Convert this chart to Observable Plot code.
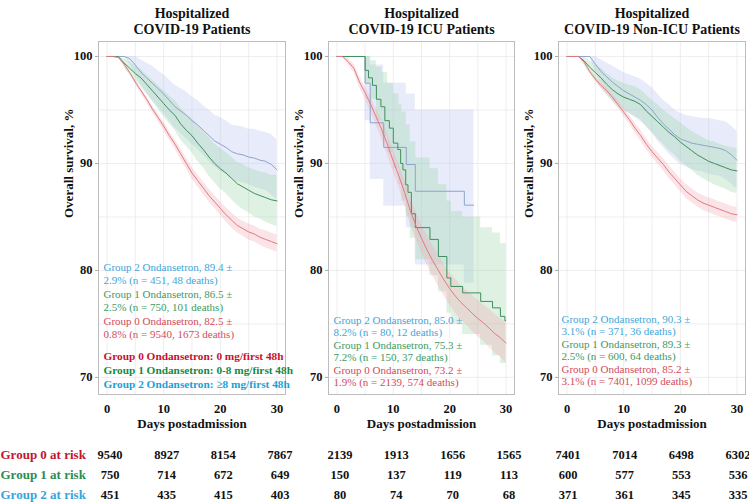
<!DOCTYPE html>
<html><head><meta charset="utf-8">
<script src="https://cdn.jsdelivr.net/npm/d3@7"></script>
<script src="https://cdn.jsdelivr.net/npm/@observablehq/plot@0.6"></script>
<style>
body{margin:0;background:#fff;}
#chart{position:relative;width:749px;height:502px;overflow:hidden;background:#fff;}
#chart svg{position:absolute;top:0;}
#chart svg, #chart svg text{font-family:"Liberation Serif","Times New Roman",serif !important;}
</style></head><body><div id="chart"></div>
<script>
// ---------- data ----------
const days = [0,1,2,3,4,5,6,7,8,9,10,11,12,13,14,15,16,17,18,19,20,21,22,23,24,25,26,27,28,29,30];
const tickDays = [0,10,20,30];
const gridDays = [0,5,10,15,20,25,30];
const tickSurv = [70,80,90,100];
const gridSurv = [70,75,80,85,90,95,100];

// All hospitalized patients
const allG0   = [100,100,99.9,99.3,98.5,97.6,96.8,96.0,95.1,94.3,93.5,92.6,91.8,90.9,90.0,89.1,88.4,87.7,87.0,86.4,85.8,85.2,84.7,84.2,83.9,83.6,83.4,83.1,82.9,82.7,82.5];
const allG0ci = [0,0,0.05,0.1,0.15,0.2,0.25,0.3,0.3,0.35,0.4,0.4,0.45,0.5,0.5,0.55,0.55,0.6,0.6,0.6,0.65,0.65,0.7,0.7,0.7,0.75,0.75,0.75,0.8,0.8,0.8];
const allG1   = [100,100,100,99.4,98.9,98.4,98.0,97.4,96.8,96.2,95.6,95.0,94.5,93.7,93.1,92.6,91.9,91.3,90.6,90.0,89.5,89.1,88.6,88.1,87.8,87.5,87.2,87.0,86.8,86.6,86.5];
const allG1ci = [0,0,0,0.4,0.6,0.7,0.8,0.9,1.0,1.1,1.2,1.3,1.4,1.5,1.5,1.6,1.7,1.7,1.8,1.8,1.9,1.9,2.0,2.0,2.1,2.1,2.2,2.2,2.3,2.3,2.4];
const allG2   = [100,100,100,100,99.8,99.2,98.5,98.0,97.5,97.0,96.5,95.9,95.3,94.9,94.5,94.0,93.6,93.1,92.6,92.1,91.8,91.5,91.1,90.9,90.8,90.6,90.5,90.3,90.2,89.9,89.4];
const allG2ci = [0,0,0,0,0.5,0.9,1.2,1.4,1.6,1.7,1.8,1.9,2.0,2.1,2.2,2.2,2.3,2.3,2.4,2.4,2.5,2.5,2.5,2.6,2.6,2.6,2.7,2.7,2.7,2.8,2.8];

// ICU patients
const icuG0   = [100,100,99.5,98.9,97.6,96.6,95.5,94.3,93.1,91.7,90.2,88.8,87.3,85.6,84.2,83.0,81.9,80.9,80.0,79.1,78.3,77.6,77.0,76.5,76.0,75.5,75.1,74.6,74.1,73.7,73.2];
const icuG0ci = [0,0,0.3,0.4,0.5,0.6,0.7,0.8,0.9,1.0,1.0,1.1,1.2,1.2,1.3,1.3,1.4,1.4,1.5,1.5,1.5,1.6,1.6,1.6,1.7,1.7,1.7,1.8,1.8,1.8,1.9];
const icuG1Days = [0,5.0,5.6,6.3,7.0,7.8,8.5,9.3,10.0,10.8,11.3,11.7,12.2,12.6,13.2,13.9,16.5,18.0,19.5,20.2,22.3,25.5,27.6,29.0,29.8,30];
const icuG1     = [100,98.7,98.0,97.3,96.0,95.3,94.0,93.3,91.9,91.3,90.0,89.4,88.0,87.3,85.3,84.0,82.9,81.3,79.3,78.5,77.9,77.1,76.5,75.7,75.3,75.3];
const icuG1BandDays = [0,5,6,7,8,9,10,11,11.5,12.3,13,14,16.5,18,19.5,20.3,22.3,25.5,27.6,29,30];
const icuG1Lo   = [100,97.5,96,94,92.5,91,89.5,88,86.5,85,83,81,79.5,78,76,75,74,73,72,71.3,71.3];
const icuG1Hi   = [100,100,99.6,99,98.5,97.5,96.5,95.5,94.8,93.6,92,90.5,89.5,88,86.5,85.5,85,84,83.5,82.5,82.5];
const icuG2Days = [0,5.0,5.9,8.3,12.3,13.9,22.6,24.3];
const icuG2     = [100,97.5,93.8,91.5,89.9,87.4,86.1,86.1];
const icuG2Lo   = [100,94,88.5,86,84,80.5,78.8,78.8];
const icuG2Hi   = [100,100,99.2,97.5,96.5,95.0,95.0,95.0];

// Non-ICU patients
const nonG0   = [100,100,100,99.5,98.6,97.9,97.3,96.8,96.2,95.5,94.8,94.1,93.3,92.6,91.8,91.1,90.5,89.9,89.2,88.6,88.0,87.4,87.0,86.6,86.3,86.1,85.9,85.7,85.5,85.3,85.2];
const nonG0ci = [0,0,0,0.1,0.15,0.2,0.25,0.3,0.3,0.35,0.4,0.4,0.45,0.5,0.5,0.5,0.55,0.55,0.6,0.6,0.6,0.65,0.65,0.65,0.7,0.7,0.7,0.7,0.7,0.7,0.7];
const nonG1   = [100,100,100,99.6,99.0,98.5,98.0,97.4,96.9,96.5,96.2,96.0,95.8,95.5,94.9,94.4,93.9,93.4,92.9,92.5,92.0,91.6,91.2,90.8,90.5,90.2,90.0,89.8,89.6,89.4,89.3];
const nonG1ci = [0,0,0,0.4,0.6,0.8,0.9,1.0,1.1,1.2,1.3,1.3,1.4,1.4,1.5,1.5,1.6,1.6,1.7,1.7,1.8,1.8,1.8,1.9,1.9,1.9,2.0,2.0,2.0,2.1,2.1];
const nonG2   = [100,100,100,100,100,99.3,98.6,98.1,97.6,97.2,96.8,96.5,96.2,95.9,95.5,95.0,94.3,93.7,93.2,92.7,92.3,92.1,91.9,91.8,91.7,91.6,91.5,91.4,91.2,90.8,90.3];
const nonG2ci = [0,0,0,0,0,0.7,1.1,1.3,1.5,1.6,1.7,1.8,1.9,2.0,2.0,2.1,2.2,2.2,2.3,2.3,2.4,2.4,2.5,2.5,2.5,2.6,2.6,2.6,2.7,2.7,2.7];

// Text
const titles = [["Hospitalized","COVID-19 Patients"],["Hospitalized","COVID-19 ICU Patients"],["Hospitalized","COVID-19 Non-ICU Patients"]];
const allLegend = ["Group 2 Ondansetron, 89.4 ±","2.9% (n = 451, 48 deaths)","Group 1 Ondansetron, 86.5 ±","2.5% (n = 750, 101 deaths)","Group 0 Ondansetron, 82.5 ±","0.8% (n = 9540, 1673 deaths)"];
const icuLegend = ["Group 2 Ondansetron, 85.0 ±","8.2% (n = 80, 12 deaths)","Group 1 Ondansetron, 75.3 ±","7.2% (n = 150, 37 deaths)","Group 0 Ondansetron, 73.2 ±","1.9% (n = 2139, 574 deaths)"];
const nonLegend = ["Group 2 Ondansetron, 90.3 ±","3.1% (n = 371, 36 deaths)","Group 1 Ondansetron, 89.3 ±","2.5% (n = 600, 64 deaths)","Group 0 Ondansetron, 85.2 ±","3.1% (n = 7401, 1099 deaths)"];
const groupLabels = ["Group 0 Ondansetron: 0 mg/first 48h","Group 1 Ondansetron: 0-8 mg/first 48h","Group 2 Ondansetron: ≥8 mg/first 48h"];
const riskLabels = ["Group 0 at risk","Group 1 at risk","Group 2 at risk"];
const riskDays = [0,10,20,30];
const allRisk = [[9540,8927,8154,7867],[750,714,672,649],[451,435,415,403]];
const icuRisk = [[2139,1913,1656,1565],[150,137,119,113],[80,74,70,68]];
const nonRisk = [[7401,7014,6498,6302],[600,577,553,536],[371,361,345,335]];
const yLabel = "Overall survival, %";
const xLabel = "Days postadmission";

// ---------- styles ----------
const FONT = "Liberation Serif";
const lineColor = ["#e07a80","#3f8f5c","#8fa3cc"];
const bandColor = ["#f3a7ae","#93d1a3","#bcc8ef"];
const softText  = ["#d34b5c","#3d9a62","#3fa6da"];
const strongText= ["#c8102e","#168a44","#1c9fd8"];
const riskColor = ["#c4142f","#2b8c52","#38a4dc"];

function smooth(g, v, ci){ return days.map((d,i)=>({g, day:d, v:v[i], lo:v[i]-ci[i], hi:Math.min(100, v[i]+ci[i])})); }
function steps(g, d, v){ return d.map((x,i)=>({g, day:x, v:v[i]})); }
function band(g, d, lo, hi){ return d.map((x,i)=>({g, day:x, lo:lo[i], hi:hi[i]})); }

const panels = [
  { left:0, width:290, ml:98, mr:5, title:titles[0], legend:allLegend, legTop:-124, legStep:13.5, legDx:5, risk:allRisk, riskDx:3, first:true,
    bands:[{d:smooth(2,allG2,allG2ci),curve:"linear"},{d:smooth(1,allG1,allG1ci),curve:"linear"},{d:smooth(0,allG0,allG0ci),curve:"linear"}],
    lines:[{d:smooth(2,allG2,allG2ci),curve:"linear"},{d:smooth(1,allG1,allG1ci),curve:"linear"},{d:smooth(0,allG0,allG0ci),curve:"linear"}] },
  { left:290, width:230, ml:38, mr:6, title:titles[1], legend:icuLegend, legTop:-71, legStep:12.5, legDx:5, risk:icuRisk, riskDx:3, first:false,
    bands:[{d:band(2,icuG2Days,icuG2Lo,icuG2Hi),curve:"step-after"},{d:band(1,icuG1BandDays,icuG1Lo,icuG1Hi),curve:"step-after"},{d:smooth(0,icuG0,icuG0ci),curve:"linear"}],
    lines:[{d:steps(2,icuG2Days,icuG2),curve:"step-after"},{d:steps(1,icuG1Days,icuG1),curve:"step-after"},{d:smooth(0,icuG0,icuG0ci),curve:"linear"}] },
  { left:520, width:229, ml:38, mr:4, title:titles[2], legend:nonLegend, legTop:-72, legStep:12.5, legDx:3, risk:nonRisk, riskDx:1, first:false,
    bands:[{d:smooth(2,nonG2,nonG2ci),curve:"linear"},{d:smooth(1,nonG1,nonG1ci),curve:"linear"},{d:smooth(0,nonG0,nonG0ci),curve:"linear"}],
    lines:[{d:smooth(2,nonG2,nonG2ci),curve:"linear"},{d:smooth(1,nonG1,nonG1ci),curve:"linear"},{d:smooth(0,nonG0,nonG0ci),curve:"linear"}] }
];

const chart = document.getElementById("chart");
const legendColorOrder = [2,2,1,1,0,0];
const T = {fontFamily: FONT};

panels.forEach(p => {
  const marks = [
    Plot.gridX({ticks: gridDays, stroke:"#e6e6e6", strokeOpacity:1, strokeWidth:0.7}),
    Plot.gridY({ticks: gridSurv, stroke:"#e6e6e6", strokeOpacity:1, strokeWidth:0.7}),
  ];
  p.bands.forEach(b => {
    const g = b.d[0].g;
    marks.push(Plot.areaY(b.d, {x:"day", y1:"lo", y2:"hi", fill: bandColor[g], fillOpacity: g===2 ? 0.34 : 0.3, curve:b.curve}));
  });
  p.lines.forEach(l => {
    const g = l.d[0].g;
    marks.push(Plot.line(l.d, {x:"day", y:"v", stroke: lineColor[g], strokeWidth: 1, curve:l.curve}));
  });
  marks.push(Plot.frame({stroke:"#bcbcbc", strokeWidth:1}));
  marks.push(Plot.axisY({ticks: tickSurv, tickSize:3, tickPadding:3, label:null, fontWeight:"bold", fontSize:12.5, stroke:"#aaa", ...T}));
  marks.push(Plot.axisX({ticks: tickDays, tickSize:0, tickPadding:10, label:null, fontWeight:"bold", fontSize:12.5, ...T}));
  // axis titles
  marks.push(Plot.text([yLabel], {frameAnchor:"left", dx:-30, rotate:-90, fontWeight:"bold", fontSize:13, fill:"#111", ...T}));
  marks.push(Plot.text([xLabel], {frameAnchor:"bottom", dy:33, fontWeight:"bold", fontSize:13, fill:"#111", ...T}));
  // titles
  marks.push(Plot.text([p.title[0]], {frameAnchor:"top", dy:-33.5, fontWeight:"bold", fontSize:14, fill:"#111", ...T}));
  marks.push(Plot.text([p.title[1]], {frameAnchor:"top", dy:-17, fontWeight:"bold", fontSize:14, fill:"#111", ...T}));
  // in-panel legend
  p.legend.forEach((t,i) => {
    marks.push(Plot.text([t], {frameAnchor:"bottom-left", dx:p.legDx, dy:p.legTop + i*p.legStep, textAnchor:"start", fontSize:11, fill: softText[legendColorOrder[i]], ...T}));
  });
  if (p.first) {
    groupLabels.forEach((t,i) => {
      marks.push(Plot.text([t], {frameAnchor:"bottom-left", dx:5, dy:-35 + i*14, textAnchor:"start", fontSize:11.3, fontWeight:"bold", fill: strongText[i], ...T}));
    });
    riskLabels.forEach((t,i) => {
      marks.push(Plot.text([t], {frameAnchor:"bottom-left", dx:-98, dy:64 + i*20, textAnchor:"start", fontSize:13, fontWeight:"bold", fill: riskColor[i], ...T}));
    });
  }
  // numbers at risk
  p.risk.forEach((row,i) => {
    marks.push(Plot.text(riskDays, {x: d => d, text: (d,j) => String(row[j]), frameAnchor:"bottom", dx:p.riskDx, dy:64 + i*20, fontSize:12.5, fontWeight:"bold", fill:"#111", ...T}));
  });

  const svg = Plot.plot({
    width: p.width, height: 502,
    marginLeft: p.ml, marginRight: p.mr, marginTop: 41, marginBottom: 108,
    x: {domain: [-1.5, 31.5]},
    y: {domain: [68.4, 101.4]},
    style: {fontFamily: FONT, fontSize: "12px", color: "#111", background: "transparent", overflow: "visible"},
    marks
  });
  svg.style.left = p.left + "px";
  chart.appendChild(svg);
});
</script></body></html>
